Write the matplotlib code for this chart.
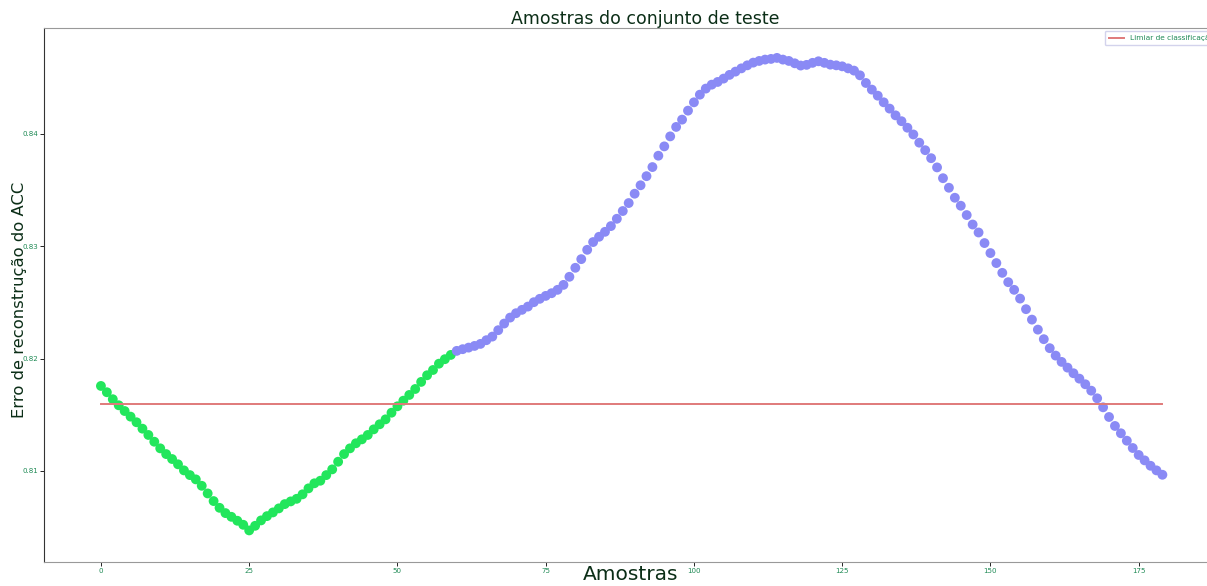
import numpy as np
import matplotlib
matplotlib.use("Agg")
import matplotlib.pyplot as plt

# reconstruction error per test sample
erro = [
    0.81756, 0.81700, 0.81638, 0.81584, 0.81533, 0.81483, 0.81433, 0.81376, 0.81320, 0.81260,
    0.81201, 0.81150, 0.81106, 0.81059, 0.81005, 0.80963, 0.80925, 0.80868, 0.80800, 0.80732,
    0.80672, 0.80625, 0.80592, 0.80557, 0.80521, 0.80471, 0.80512, 0.80560, 0.80598, 0.80631,
    0.80667, 0.80705, 0.80729, 0.80752, 0.80792, 0.80845, 0.80890, 0.80913, 0.80963, 0.81014,
    0.81082, 0.81150, 0.81201, 0.81246, 0.81281, 0.81320, 0.81370, 0.81415, 0.81459, 0.81518,
    0.81575, 0.81625, 0.81676, 0.81729, 0.81792, 0.81851, 0.81898, 0.81954, 0.81994, 0.82032,
    0.82068, 0.82083, 0.82097, 0.82112, 0.82130, 0.82163, 0.82195, 0.82252, 0.82311, 0.82364,
    0.82403, 0.82433, 0.82462, 0.82501, 0.82531, 0.82557, 0.82581, 0.82611, 0.82655, 0.82727,
    0.82807, 0.82884, 0.82967, 0.83036, 0.83083, 0.83127, 0.83178, 0.83243, 0.83312, 0.83383,
    0.83466, 0.83541, 0.83622, 0.83703, 0.83804, 0.83887, 0.83976, 0.84060, 0.84125, 0.84205,
    0.84279, 0.84347, 0.84401, 0.84436, 0.84460, 0.84490, 0.84523, 0.84552, 0.84581, 0.84608,
    0.84632, 0.84647, 0.84659, 0.84665, 0.84674, 0.84659, 0.84647, 0.84626, 0.84606, 0.84612,
    0.84630, 0.84644, 0.84630, 0.84614, 0.84608, 0.84599, 0.84581, 0.84561, 0.84519, 0.84451,
    0.84392, 0.84338, 0.84279, 0.84223, 0.84163, 0.84111, 0.84053, 0.83993, 0.83920, 0.83853,
    0.83782, 0.83700, 0.83604, 0.83519, 0.83430, 0.83359, 0.83276, 0.83192, 0.83121, 0.83027,
    0.82938, 0.82849, 0.82762, 0.82679, 0.82611, 0.82533, 0.82439, 0.82346, 0.82257, 0.82172,
    0.82092, 0.82026, 0.81970, 0.81919, 0.81869, 0.81821, 0.81771, 0.81714, 0.81646, 0.81566,
    0.81480, 0.81400, 0.81335, 0.81269, 0.81204, 0.81142, 0.81094, 0.81046, 0.81005, 0.80966,
]
n_normal = 60            # first 60 samples are the normal class (green)
limiar = 0.81596

amostras = np.arange(len(erro))
erro = np.array(erro)
cores = np.where(amostras < n_normal, "#22e65c", "#8a8af5")

TXT = "#0b2e17"
TICK = "#1f8a55"

# axes run past the right edge of the picture (legend is cut off in the reference)
fig = plt.figure(figsize=(12.07, 5.86), dpi=100)
W = 1180
ax = fig.add_axes([44 / 1207, 24 / 586, W / 1207, 534 / 586])

ax.scatter(amostras, erro, c=cores, s=50, linewidths=0, zorder=2)
ax.plot(amostras, np.full(len(erro), limiar), color="#e07a7a", lw=1.4,
        label="Limiar de classificação", zorder=3)

ax.set_xlim(-9.6, -9.6 + W / 5.93)
ax.set_ylim(0.8019, 0.8494)
ax.set_xticks([0, 25, 50, 75, 100, 125, 150, 175])
ax.set_yticks([0.81, 0.82, 0.83, 0.84])
ax.tick_params(labelsize=5.1, labelcolor=TICK, length=3, width=0.6, pad=1.2)

ax.set_title("Amostras do conjunto de teste", fontsize=12.5, color=TXT, pad=2,
             x=(645 - 44) / W)
ax.set_xlabel("Amostras", fontsize=14.5, color=TXT)
ax.xaxis.set_label_coords((631 - 44) / W, -0.006)
ax.set_ylabel("Erro de reconstrução do ACC", fontsize=11.8, color=TXT)
ax.yaxis.set_label_coords(-17 / W, 0.49)

for s in ("top", "bottom", "right"):
    ax.spines[s].set_color("#999999")
ax.spines["left"].set_color("#333333")

leg = ax.legend(loc="upper left", bbox_to_anchor=((1105 - 44) / W, (562 - 31) / 534),
                borderaxespad=0, fontsize=5.3, frameon=True, borderpad=0.55)
for t in leg.get_texts():
    t.set_color(TICK)
leg.get_frame().set_edgecolor("#c8c8e8")

fig.savefig("out.png", dpi=100)
